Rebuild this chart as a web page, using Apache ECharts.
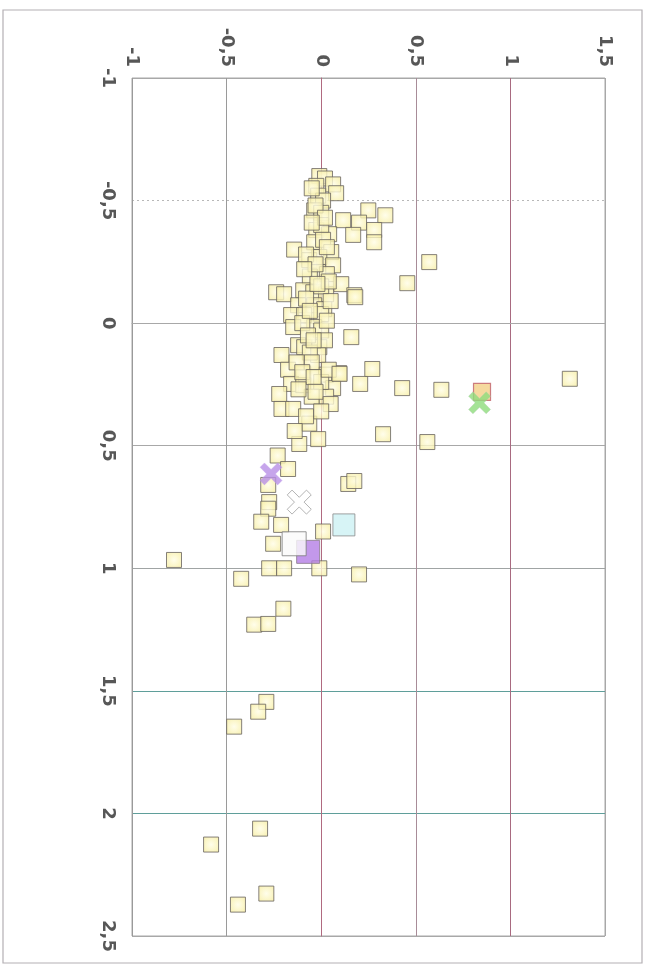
<!DOCTYPE html>
<html>
<head>
<meta charset="utf-8">
<script src="https://cdn.jsdelivr.net/npm/echarts@6/dist/echarts.min.js"></script>
<style>
  html, body { margin: 0; padding: 0; background: #fff; }
  #chart { width: 645px; height: 967px; }
</style>
</head>
<body>
<div id="chart"></div>
<script>
// Main sample cloud (x, y)
const sampleX = [
  -0.01, 0.02, -0.026, 0.063, 0.079, -0.016, 0.01, -0.037, 0.0, 0.249, 0.339, 0.116, 0.2, 0.28, 0.169, 0.28,
  -0.026, 0.042, 0.0, -0.037, 0.01, -0.143, 0.053, -0.063, -0.01, 0.063, -0.016, 0.03, -0.06, 0.106,
  -0.238, -0.196, -0.095, -0.042, 0.026, 0.175, -0.122, -0.037, 0.016, -0.08, 0.0,
  -0.159, -0.09, 0.0, -0.148, -0.037, -0.1, 0.0, -0.122, -0.09, -0.01, -0.21, -0.016, -0.06,
  -0.175, -0.095, 0.026, 0.095, -0.159, -0.095, 0.063, -0.222, 0.026, -0.21, -0.148, -0.063,
  -0.116, -0.016, -0.05, -0.13, 0.0, -0.05,
  -0.05, -0.03, 0.02, -0.05, 0.03, -0.08, -0.03, 0.04, -0.09, -0.02, 0.05, -0.06, 0.03,
  -0.07, 0.02, -0.04, -0.1, -0.04, 0.04, -0.12, -0.03, 0.05, -0.08, -0.14, 0.0,
  0.571, 0.455, 0.18, 0.159, 0.27, 0.206, 0.097, 0.428, 0.635, 1.314, 0.327, 0.561,
  -0.23, -0.175, -0.28, -0.275, 0.143, 0.175, -0.28, -0.317, -0.212, 0.01, -0.254,
  -0.275, -0.196, -0.01, -0.423, 0.2, -0.2, -0.778, -0.354, -0.28,
  -0.29, -0.333, -0.46, -0.323, -0.582, -0.29, -0.44
];
const sampleY = [
  -0.6, -0.59, -0.56, -0.566, -0.53, -0.52, -0.5, -0.46, -0.45, -0.46, -0.44, -0.42, -0.41, -0.38, -0.36, -0.33,
  -0.38, -0.363, -0.4, -0.33, -0.34, -0.3, -0.29, -0.257, -0.27, -0.236, -0.208, -0.2, -0.19, -0.159,
  -0.126, -0.118, -0.134, -0.126, -0.118, -0.114, -0.073, -0.073, -0.057, -0.1, -0.15,
  -0.033, -0.033, -0.037, 0.016, 0.016, 0.0, 0.03, 0.09, 0.098, 0.098, 0.13, 0.13, 0.12,
  0.19, 0.207, 0.21, 0.204, 0.248, 0.253, 0.265, 0.289, 0.3, 0.35, 0.35, 0.41,
  0.493, 0.473, 0.16, 0.16, 0.24, 0.3,
  -0.55, -0.48, -0.43, -0.41, -0.31, -0.28, -0.24, -0.17, -0.22, -0.16, -0.09, -0.05, -0.01,
  0.05, 0.07, 0.07, 0.2, 0.22, 0.19, 0.27, 0.28, 0.33, 0.38, 0.44, 0.36,
  -0.249, -0.163, -0.106, 0.057, 0.187, 0.248, 0.207, 0.265, 0.272, 0.227, 0.453, 0.485,
  0.54, 0.595, 0.66, 0.73, 0.656, 0.644, 0.757, 0.81, 0.823, 0.85, 0.9,
  1.0, 1.0, 1.0, 1.043, 1.025, 1.165, 0.966, 1.23, 1.227,
  1.545, 1.585, 1.646, 2.062, 2.127, 2.327, 2.372
];

// Highlighted groups
const orangeSquare = [[0.85, 0.28]];
const greenCross = [[0.837, 0.325]];
const purpleCross = [[-0.265, 0.615]];
const whiteCross = [[-0.116, 0.73]];
const cyanSquare = [[0.12, 0.823]];
const purpleSquare = [[-0.069, 0.933]];
const whiteSquare = [[-0.143, 0.9]];

// Axis ranges and tick step
const xRange = [-1, 1.5];
const yRange = [-1, 2.5];
const tickStep = 0.5;

const samplePoints = sampleX.map((x, i) => [x, sampleY[i]]);
const crossPath = 'path://M0,2 L2,0 L5,3 L8,0 L10,2 L7,5 L10,8 L8,10 L5,7 L2,10 L0,8 L3,5 Z';
const fmt = v => String(v).replace('.', ',');

const yellowFill = {
  type: 'radial', x: 0.5, y: 0.5, r: 0.7,
  colorStops: [{ offset: 0, color: '#fffde6' }, { offset: 1, color: '#f6ec98' }]
};

const labelStyle = {
  rotate: -90, formatter: fmt,
  color: '#575757', fontSize: 18, fontWeight: 'bold', fontFamily: 'DejaVu Sans'
};

const chart = echarts.init(document.getElementById('chart'), null, { renderer: 'canvas' });
chart.setOption({
  backgroundColor: '#ffffff',
  animation: false,
  graphic: [{
    type: 'rect', shape: { x: 3, y: 10, width: 639, height: 953 },
    style: { fill: 'none', stroke: '#b4b0b4', lineWidth: 1.2 }, z: 0
  }],
  grid: { left: 132, top: 78, right: 40, bottom: 31, show: true, borderColor: '#a8a8a8', borderWidth: 1 },
  xAxis: {
    type: 'value', position: 'top', min: xRange[0], max: xRange[1], interval: tickStep,
    axisLine: { show: true, lineStyle: { color: '#a8a8a8' } },
    axisTick: { show: false },
    splitLine: { show: true, lineStyle: { color: ['#9a9a9a', '#9a9a9a', '#a09898', '#a88c98', '#a86a80', '#a8a8a8'], width: 1 } },
    axisLabel: Object.assign({ margin: 11 }, labelStyle)
  },
  yAxis: [
    {
      type: 'value', inverse: true, min: yRange[0], max: yRange[1], interval: tickStep,
      axisLine: { show: true, lineStyle: { color: '#b06a80' } },
      axisTick: { show: false },
      splitLine: { show: true, lineStyle: { color: ['#a8a8a8', 'rgba(0,0,0,0)', '#b06a80', '#a8a8a8', '#a0a4a4', '#5f9e9a', '#5f9e9a', '#a8a8a8'], width: 1 } },
      axisLabel: Object.assign({ margin: 15 }, labelStyle)
    },
    {
      // overlay axis: dotted line at -0.5 only
      type: 'value', inverse: true, min: yRange[0], max: yRange[1], interval: tickStep,
      position: 'left', axisLine: { show: false }, axisTick: { show: false }, axisLabel: { show: false },
      splitLine: { show: true, lineStyle: { type: [2, 3], color: ['rgba(0,0,0,0)', '#b8b8b8', 'rgba(0,0,0,0)', 'rgba(0,0,0,0)', 'rgba(0,0,0,0)', 'rgba(0,0,0,0)', 'rgba(0,0,0,0)', 'rgba(0,0,0,0)'], width: 1 } }
    }
  ],
  series: [
    {
      type: 'scatter', data: samplePoints, symbol: 'rect', symbolSize: 15,
      itemStyle: { color: yellowFill, borderColor: '#66625e', borderWidth: 1 }, z: 2
    },
    {
      type: 'scatter', data: orangeSquare, symbol: 'rect', symbolSize: 17,
      itemStyle: { color: '#f3cf86', borderColor: '#c0606a', borderWidth: 1.2 }, z: 3
    },
    {
      type: 'scatter', data: greenCross, symbol: crossPath, symbolSize: 22,
      itemStyle: { color: '#8fdc7c', borderColor: '#b0d0b0', borderWidth: 0.5 }, z: 4
    },
    {
      type: 'scatter', data: purpleCross, symbol: crossPath, symbolSize: 22,
      itemStyle: { color: '#b88ee6', borderColor: '#c8a8f0', borderWidth: 0.5 }, z: 4
    },
    {
      type: 'scatter', data: whiteCross, symbol: crossPath, symbolSize: 24,
      itemStyle: { color: '#ffffff', borderColor: '#a0a0a0', borderWidth: 1 }, z: 4
    },
    {
      type: 'scatter', data: cyanSquare, symbol: 'rect', symbolSize: 22,
      itemStyle: { color: '#cdf1f4', borderColor: '#8a8a8a', borderWidth: 1 }, z: 3
    },
    {
      type: 'scatter', data: purpleSquare, symbol: 'rect', symbolSize: 23,
      itemStyle: { color: '#b47ee6', borderColor: '#8a7a8a', borderWidth: 1 }, z: 3
    },
    {
      type: 'scatter', data: whiteSquare, symbol: 'rect', symbolSize: 24,
      itemStyle: { color: '#fafafa', borderColor: '#7a7a7a', borderWidth: 1 }, z: 4
    }
  ]
});
</script>
</body>
</html>
